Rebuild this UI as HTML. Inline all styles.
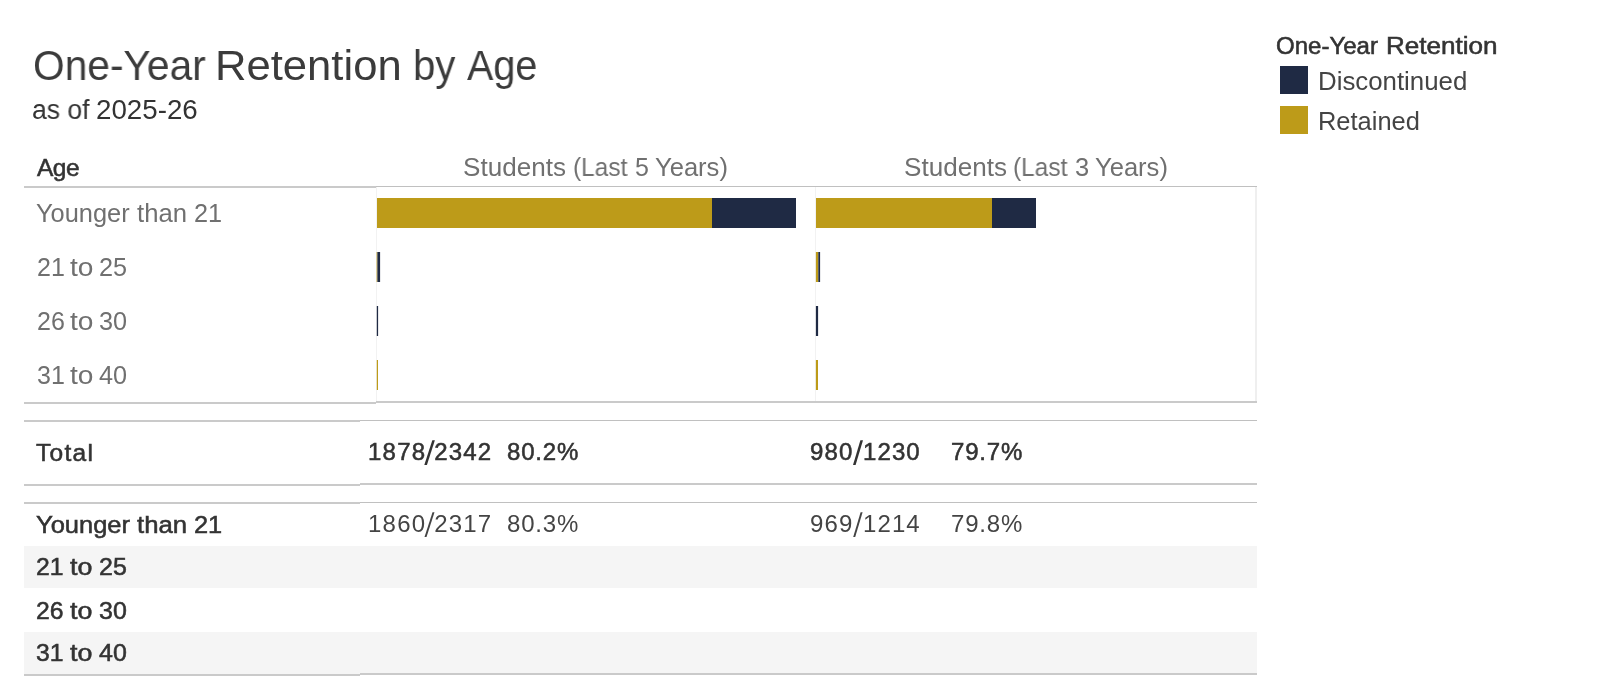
<!DOCTYPE html>
<html>
<head>
<meta charset="utf-8">
<title>One-Year Retention by Age</title>
<style>
html,body{margin:0;padding:0;background:#fff;}
body{width:1600px;height:700px;position:relative;overflow:hidden;font-family:"Liberation Sans",sans-serif;color:#333;}
.t{will-change:transform;}
.t{position:absolute;white-space:pre;line-height:1;margin:0;padding:0;}
.r{position:absolute;}
.tt{top:45.3px;font-size:42px;color:#3b3b3b;transform-origin:0 0;}
.st{top:97px;font-size:27px;color:#333;transform-origin:0 0;}
.md{-webkit-text-stroke:0.55px #333;color:#333;}
.lb{color:#707070;font-size:25px;}
.w{transform-origin:0 0;}
.n24{font-size:24px;}
.sl{color:transparent;-webkit-text-stroke:0 transparent;}
.b25{font-size:24.5px;}
.ln{position:absolute;background:#cacaca;}
.vl{position:absolute;background:#f2f2f2;width:1px;}
.gold{background:#bd9b19;}
.navy{background:#1f2a44;}
.band{position:absolute;background:#f5f5f5;left:24px;width:1233px;}
</style>
</head>
<body>
<!-- titles -->
<div class="t tt" id="title" style="left:32.66px;transform:scaleX(0.969);">One-Year</div>
<div class="t tt" style="left:214.8px;transform:scaleX(1.038);">Retention</div>
<div class="t tt" style="left:412.5px;transform:scaleX(0.957);">by</div>
<div class="t tt" style="left:466.6px;transform:scaleX(0.942);">Age</div>
<div class="t st" id="sub" style="left:32.1px;transform:scaleX(0.983);">as of</div>
<div class="t st" style="left:96.4px;transform:scaleX(1.027);">2025-26</div>

<!-- legend -->
<div class="t md w" style="left:1276.3px;top:34.5px;transform:scaleX(1.022);font-size:23.5px;">One-Year</div>
<div class="t md w" style="left:1386.4px;top:34.5px;transform:scaleX(1.108);font-size:23.5px;">Retention</div>
<div class="r navy" style="left:1280px;top:66px;width:28px;height:28px;"></div>
<div class="r gold" style="left:1280px;top:106px;width:28px;height:28px;"></div>
<div class="t w" style="left:1317.9px;top:68.64px;font-size:25px;color:#444;transform:scaleX(1.033);">Discontinued</div>
<div class="t w" style="left:1317.8px;top:108.6px;font-size:25px;color:#444;transform:scaleX(1.0175);">Retained</div>

<!-- header -->
<div class="t md b25" id="hage" style="left:37.1px;top:155.5px;letter-spacing:-0.5px;">Age</div>
<div class="t lb w" style="left:463.4px;top:154.6px;transform:scaleX(1.043);">Students</div>
<div class="t lb w" style="left:573.4px;top:154.6px;transform:scaleX(0.975);">(Last</div>
<div class="t lb w" style="left:635.1px;top:154.6px;transform:scaleX(1);">5</div>
<div class="t lb w" style="left:654.6px;top:154.6px;transform:scaleX(1.022);">Years)</div>
<div class="t lb w" style="left:903.6px;top:154.6px;transform:scaleX(1.043);">Students</div>
<div class="t lb w" style="left:1013.4px;top:154.6px;transform:scaleX(0.975);">(Last</div>
<div class="t lb w" style="left:1074.8px;top:154.6px;transform:scaleX(1.02);">3</div>
<div class="t lb w" style="left:1094.6px;top:154.6px;transform:scaleX(1.022);">Years)</div>

<!-- header rule -->
<div class="ln" style="left:24px;top:186px;width:352px;height:2px;"></div>
<div class="ln" style="left:376px;top:186px;width:881px;height:1px;background:#c0c0c0;"></div>

<!-- pane borders -->
<div class="vl" style="left:376px;top:187px;height:215px;"></div>
<div class="vl" style="left:815px;top:187px;height:215px;"></div>
<div class="vl" style="left:1255px;top:187px;height:214px;width:2px;background:#efefef;"></div>

<!-- row labels -->
<div class="t lb w" style="left:36px;top:201px;transform:scaleX(1.016);">Younger</div>
<div class="t lb w" style="left:137px;top:201px;transform:scaleX(1.027);">than</div>
<div class="t lb w" style="left:193.7px;top:201px;transform:scaleX(1.01);">21</div>
<div class="t lb w" style="left:36.5px;top:255px;transform:scaleX(0.985);">21</div>
<div class="t lb w" style="left:70px;top:255px;transform:scaleX(1.125);">to</div>
<div class="t lb w" style="left:99.3px;top:255px;transform:scaleX(1.01);">25</div>
<div class="t lb w" style="left:36.5px;top:309px;transform:scaleX(0.985);">26</div>
<div class="t lb w" style="left:70px;top:309px;transform:scaleX(1.125);">to</div>
<div class="t lb w" style="left:99.3px;top:309px;transform:scaleX(1.01);">30</div>
<div class="t lb w" style="left:36.5px;top:363px;transform:scaleX(0.985);">31</div>
<div class="t lb w" style="left:70px;top:363px;transform:scaleX(1.125);">to</div>
<div class="t lb w" style="left:99.3px;top:363px;transform:scaleX(1.01);">40</div>

<!-- bars -->
<div class="r gold" style="left:377px;top:198px;width:335px;height:30px;"></div>
<div class="r navy" style="left:712px;top:198px;width:84px;height:30px;"></div>
<div class="r gold" style="left:816px;top:198px;width:176px;height:30px;"></div>
<div class="r navy" style="left:992px;top:198px;width:44px;height:30px;"></div>
<svg class="r" style="left:370px;top:240px;" width="460" height="160" viewBox="370 240 460 160">
  <rect x="376.6" y="252" width="0.8" height="30" fill="#bd9b19"/>
  <rect x="377.4" y="252" width="2.7" height="30" fill="#1f2a44"/>
  <rect x="376.8" y="306" width="1.3" height="30" fill="#1f2a44"/>
  <rect x="376.8" y="360" width="1.2" height="30" fill="#bd9b19"/>
  <rect x="815.9" y="252" width="2.4" height="30" fill="#bd9b19"/>
  <rect x="818.3" y="252" width="1.8" height="30" fill="#1f2a44"/>
  <rect x="815.9" y="306" width="2.2" height="30" fill="#1f2a44"/>
  <rect x="815.9" y="360" width="2.1" height="30" fill="#bd9b19"/>
</svg>

<!-- rule below chart -->
<div class="ln" style="left:24px;top:402px;width:352px;height:2px;"></div>
<div class="ln" style="left:376px;top:401px;width:881px;height:2px;"></div>

<!-- total block -->
<div class="ln" style="left:24px;top:420px;width:336px;height:2px;"></div>
<div class="ln" style="left:360px;top:420px;width:897px;height:1px;background:#c0c0c0;"></div>
<div class="t md b25" id="tot" style="left:36.2px;top:441.16px;letter-spacing:1.3px;">Total</div>
<div class="t md n24" id="t5a" style="left:367.5px;top:439.6px;letter-spacing:1.22px;">1878<span class="sl">/</span>2342</div>
<div class="t md n24" id="t5b" style="left:507px;top:439.6px;letter-spacing:0.8px;">80.2%</div>
<div class="t md n24" id="t3a" style="left:810.4px;top:439.6px;letter-spacing:1.2px;">980</div>
<div class="t md n24" style="left:862.6px;top:439.6px;letter-spacing:1.1px;">1230</div>
<div class="t md n24" id="t3b" style="left:951px;top:439.6px;letter-spacing:0.8px;">79.7%</div>
<div class="ln" style="left:24px;top:484px;width:336px;height:2px;"></div>
<div class="ln" style="left:360px;top:483px;width:897px;height:2px;"></div>

<!-- detail block -->
<div class="ln" style="left:24px;top:502px;width:336px;height:2px;"></div>
<div class="ln" style="left:360px;top:502px;width:897px;height:1px;background:#c0c0c0;"></div>
<div class="band" style="top:546px;height:42px;"></div>
<div class="band" style="top:632px;height:42px;"></div>
<div class="t md b25 w" style="left:36.3px;top:513px;transform:scaleX(1.04);">Younger</div>
<div class="t md b25 w" style="left:136.9px;top:513px;transform:scaleX(1.05);">than</div>
<div class="t md b25 w" style="left:193.8px;top:513px;transform:scaleX(1.035);">21</div>
<div class="t md b25 w" style="left:35.9px;top:554.86px;transform:scaleX(1.01);">21</div>
<div class="t md b25 w" style="left:70px;top:554.86px;transform:scaleX(1.095);">to</div>
<div class="t md b25 w" style="left:99px;top:554.86px;transform:scaleX(1.02);">25</div>
<div class="t md b25 w" style="left:35.9px;top:599.06px;transform:scaleX(1.01);">26</div>
<div class="t md b25 w" style="left:70px;top:599.06px;transform:scaleX(1.095);">to</div>
<div class="t md b25 w" style="left:99px;top:599.06px;transform:scaleX(1.02);">30</div>
<div class="t md b25 w" style="left:35.9px;top:641.26px;transform:scaleX(1.01);">31</div>
<div class="t md b25 w" style="left:70px;top:641.26px;transform:scaleX(1.095);">to</div>
<div class="t md b25 w" style="left:99px;top:641.26px;transform:scaleX(1.02);">40</div>
<div class="t n24" id="d5a" style="left:367.5px;top:511.5px;color:#444;letter-spacing:1.22px;">1860<span class="sl">/</span>2317</div>
<div class="t n24" id="d5b" style="left:507px;top:511.5px;color:#444;letter-spacing:0.8px;">80.3%</div>
<div class="t n24" id="d3a" style="left:810.4px;top:511.5px;color:#444;letter-spacing:1.2px;">969</div>
<div class="t n24" style="left:862.6px;top:511.5px;color:#444;letter-spacing:1.1px;">1214</div>
<div class="t n24" id="d3b" style="left:951px;top:511.5px;color:#444;letter-spacing:0.8px;">79.8%</div>
<svg class="r" style="left:400px;top:430px;" width="500" height="120" viewBox="400 430 500 120">
<polygon points="424.3,465.1 426.90000000000003,465.1 434.90000000000003,440.3 432.3,440.3" fill="#333"/>
<polygon points="853.0,465.1 855.6,465.1 863.0,440.3 860.4,440.3" fill="#333"/>
<polygon points="424.5,537.1 426.5,537.1 434.5,512.3 432.5,512.3" fill="#444"/>
<polygon points="853.2,537.1 855.2,537.1 862.6,512.3 860.6,512.3" fill="#444"/>
</svg>
<div class="ln" style="left:24px;top:674px;width:336px;height:2px;"></div>
<div class="ln" style="left:360px;top:673px;width:897px;height:2px;"></div>
</body>
</html>
